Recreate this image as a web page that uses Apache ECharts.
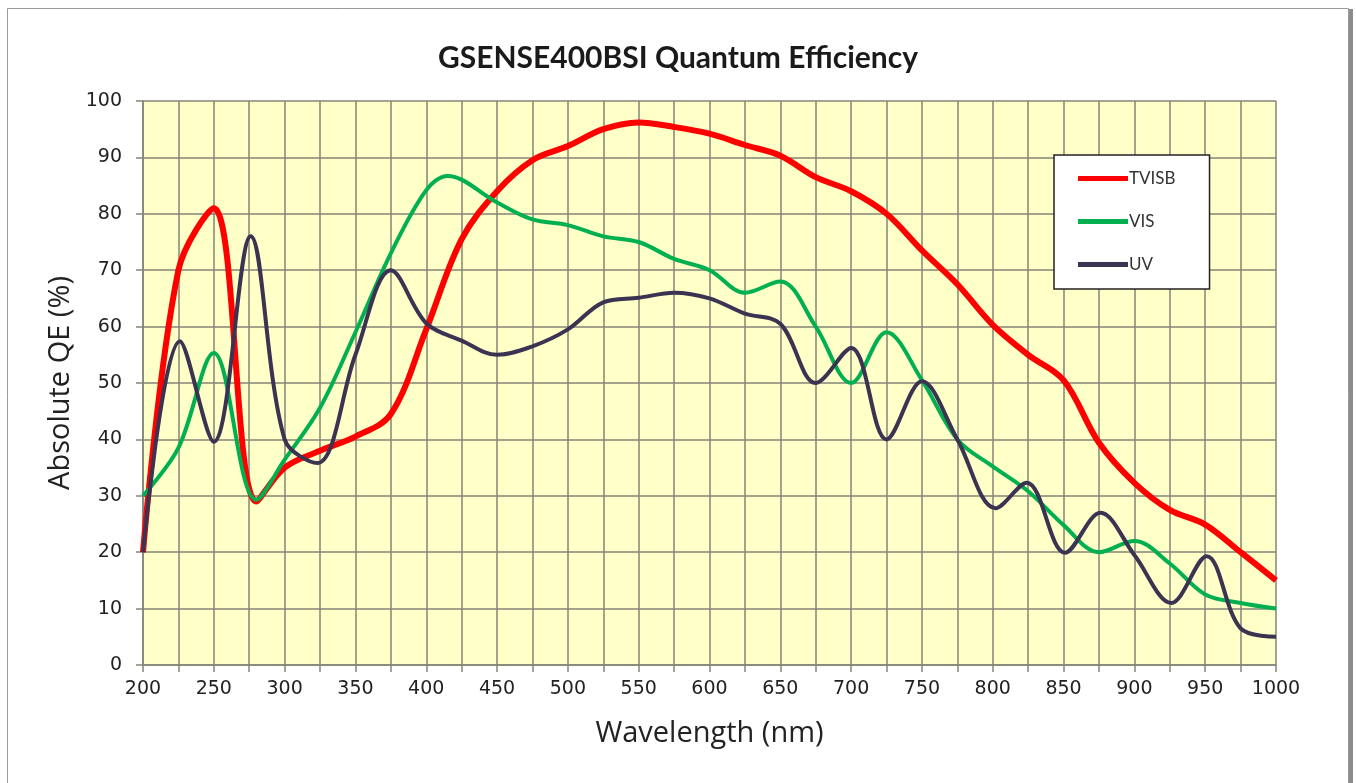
<!DOCTYPE html>
<html>
<head>
<meta charset="utf-8">
<title>GSENSE400BSI Quantum Efficiency</title>
<script src="https://cdn.jsdelivr.net/npm/echarts@6/dist/echarts.min.js"></script>
<style>
  html, body { margin: 0; padding: 0; background: #fff; }
  #chart { width: 1356px; height: 783px; }
</style>
</head>
<body>
<div id="chart"></div>
<script>
// wavelength (nm) / QE (%)
var tvisbX = [200, 225, 250, 280, 300, 325, 350, 375, 400, 425, 450, 475, 500, 525, 550, 575, 600, 625, 650, 675, 700, 725, 750, 775, 800, 825, 850, 875, 900, 925, 950, 975, 1000];
var tvisbY = [20, 70, 81, 29, 35, 38, 40.5, 44.5, 59.5, 75.5, 84, 89.5, 92, 95, 96.2, 95.4, 94.2, 92.2, 90.3, 86.5, 84, 80, 73.5, 67.5, 60.3, 55, 50.5, 39.4, 32.3, 27.5, 24.9, 20, 15];

var visX = [200, 225, 250, 280, 300, 325, 350, 375, 400, 415, 450, 475, 500, 525, 550, 575, 600, 625, 650, 675, 700, 725, 750, 775, 800, 825, 850, 875, 900, 925, 950, 975, 1000];
var visY = [30, 38.5, 55.3, 29.3, 36.4, 45.6, 59, 73, 84.2, 86.7, 82, 79, 78, 76, 75, 72, 70, 66, 68, 60, 50, 59, 50.5, 40, 35.2, 30.8, 24.8, 20, 22, 18, 12.5, 11, 10];

var uvX = [200, 226, 250, 276, 300, 323, 350, 375, 400, 425, 450, 475, 500, 525, 550, 575, 600, 625, 650, 675, 700, 725, 750, 775, 802, 824, 851, 876, 900, 926, 951, 975, 1000];
var uvY = [20, 57.4, 39.6, 76, 40, 35.8, 55, 70, 60.6, 57.5, 55, 56.5, 59.5, 64.3, 65.1, 66, 65, 62.3, 60.5, 50, 56.2, 40, 50.3, 40, 27.8, 32.3, 19.9, 27, 19.5, 11, 19.3, 6.5, 5];

var seriesNames = ['TVISB', 'VIS', 'UV'];
var seriesColors = ['#ff0000', '#00b050', '#3a3352'];

function pairs(xs, ys) {
  return xs.map(function (x, i) { return [x, ys[i]]; });
}

var chart = echarts.init(document.getElementById('chart'));

var gridColor = '#858577';
var labelFont = 'DejaVu Sans';

var option = {
  backgroundColor: '#ffffff',
  animation: false,
  graphic: [
    {
      type: 'rect',
      shape: { x: 7.5, y: 8.5, width: 1341, height: 790 },
      style: { fill: 'none', stroke: '#9a9a9a', lineWidth: 1 }
    },
    {
      type: 'rect',
      shape: { x: 1349, y: 9, width: 4, height: 790 },
      style: { fill: '#8c8c8c' }
    }
  ],
  title: {
    text: 'GSENSE400BSI Quantum Efficiency',
    left: 'center',
    top: 38,
    textStyle: {
      fontFamily: 'Lato',
      fontWeight: 'bold',
      fontSize: 30,
      color: '#1a1a1a'
    }
  },
  legend: {
    orient: 'vertical',
    left: 1054,
    top: 155,
    padding: [14, 34, 15, 24],
    itemGap: 24,
    itemWidth: 50,
    itemHeight: 5,
    icon: 'rect',
    backgroundColor: '#ffffff',
    borderColor: '#222222',
    borderWidth: 1.5,
    textStyle: { fontFamily: 'Lato', fontSize: 17, lineHeight: 19, color: '#333', padding: [0, 0, 0, -4] },
    data: seriesNames
  },
  grid: {
    left: 143,
    right: 80,
    top: 101,
    bottom: 118,
    show: true,
    backgroundColor: '#ffffc8',
    borderWidth: 0
  },
  xAxis: {
    type: 'value',
    min: 200,
    max: 1000,
    interval: 25,
    name: 'Wavelength (nm)',
    nameLocation: 'middle',
    nameGap: 54,
    nameTextStyle: { fontFamily: 'Open Sans', fontSize: 29, color: '#222' },
    axisLine: { show: true, lineStyle: { color: gridColor, width: 1.5 } },
    axisTick: { show: true, length: 7, lineStyle: { color: gridColor, width: 1.5 } },
    axisLabel: {
      fontFamily: labelFont,
      fontSize: 19,
      color: '#222',
      margin: 15,
      formatter: function (v) { return v % 50 === 0 ? String(v) : ''; }
    },
    splitLine: { show: true, lineStyle: { color: gridColor, width: 1.5 } }
  },
  yAxis: {
    type: 'value',
    min: 0,
    max: 100,
    interval: 10,
    name: 'Absolute QE (%)',
    nameLocation: 'middle',
    nameGap: 66,
    nameTextStyle: { fontFamily: 'Open Sans', fontSize: 29, color: '#222' },
    axisLine: { show: true, lineStyle: { color: gridColor, width: 1.5 } },
    axisTick: { show: true, length: 7, lineStyle: { color: gridColor, width: 1.5 } },
    axisLabel: { fontFamily: labelFont, fontSize: 19, color: '#222', margin: 21 },
    splitLine: { show: true, lineStyle: { color: gridColor, width: 1.5 } }
  },
  series: [
    {
      name: seriesNames[0],
      type: 'line',
      data: pairs(tvisbX, tvisbY),
      smooth: 0.35,
      symbol: 'none',
      color: seriesColors[0],
      lineStyle: { width: 6, color: seriesColors[0] },
      z: 3
    },
    {
      name: seriesNames[1],
      type: 'line',
      data: pairs(visX, visY),
      smooth: 0.35,
      symbol: 'none',
      color: seriesColors[1],
      lineStyle: { width: 4, color: seriesColors[1] },
      z: 4
    },
    {
      name: seriesNames[2],
      type: 'line',
      data: pairs(uvX, uvY),
      smooth: 0.35,
      symbol: 'none',
      color: seriesColors[2],
      lineStyle: { width: 4, color: seriesColors[2] },
      z: 5
    }
  ]
};

chart.setOption(option);
</script>
</body>
</html>
